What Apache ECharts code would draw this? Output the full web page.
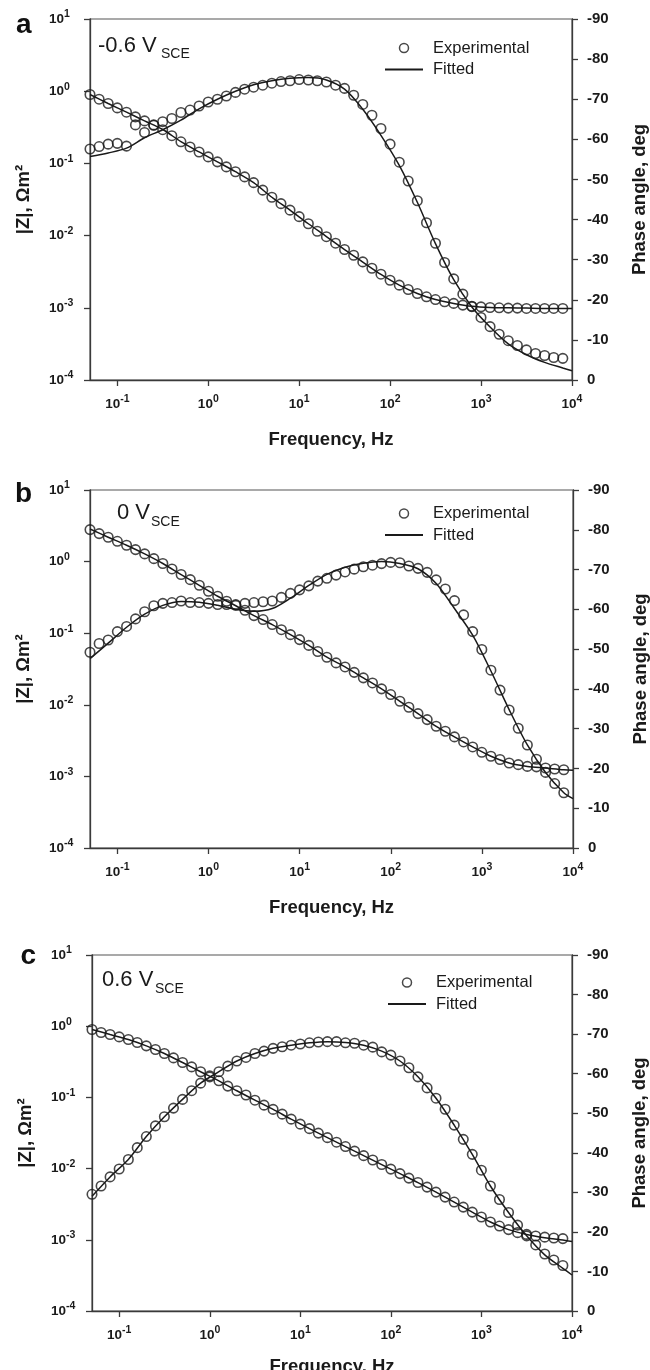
<!DOCTYPE html>
<html><head><meta charset="utf-8">
<script src="https://cdn.jsdelivr.net/npm/echarts@6/dist/echarts.min.js"></script>
<style>html,body{margin:0;padding:0;background:#fff}#c{width:650px;height:1370px}</style>
</head><body><div id="c"></div>
<script>
// ---------- data ----------
const freq = [0.05, 0.063, 0.0792, 0.0998, 0.126, 0.158, 0.199, 0.251, 0.315, 0.397,
  0.5, 0.63, 0.792, 0.998, 1.26, 1.58, 1.99, 2.51, 3.15, 3.97,
  5, 6.3, 7.92, 9.98, 12.6, 15.8, 19.9, 25.1, 31.5, 39.7,
  50, 63, 79.2, 99.8, 126, 158, 199, 251, 315, 397,
  500, 630, 792, 998, 1256, 1581, 1991, 2506, 3155, 3972,
  5000, 6295, 7924];
const fitFreq = [0.05, 0.0792, 0.126, 0.199, 0.315, 0.5, 0.792, 1.26, 1.99, 3.15, 5, 7.92, 12.6, 19.9,
  31.5, 50, 79.2, 126, 199, 315, 500, 792, 1256, 1991, 3155, 5000, 7924, 10000];
const xTicks = [0.1, 1, 10, 100, 1000, 10000];
const zTicks = [1e-4, 1e-3, 1e-2, 1e-1, 1, 10];
const panelLetters = ['a', 'b', 'c'];
const potentials = ['-0.6 V', '0 V', '0.6 V'];
const potentialSub = 'SCE';

// panel a (-0.6 V SCE)
const aZ = [0.900, 0.775, 0.676, 0.587, 0.512, 0.441, 0.388, 0.338, 0.293, 0.242,
  0.199, 0.169, 0.144, 0.123, 0.105, 0.0895, 0.0767, 0.0650, 0.0541, 0.0426,
  0.0340, 0.0277, 0.0225, 0.0183, 0.0146, 0.0115, 0.00966, 0.00785, 0.00642, 0.00535,
  0.00432, 0.00353, 0.00292, 0.00241, 0.00206, 0.00179, 0.00158, 0.00142, 0.00130, 0.00121,
  0.00115, 0.00109, 0.00105, 0.00103, 0.00101, 0.00100, 0.00099, 0.00099, 0.00098, 0.00098,
  0.00098, 0.00098, 0.00098];
const aPhase = [-57.6, -58.2, -58.8, -59.0, -58.3, -63.6, -61.7, -63.6, -64.4, -65.2,
  -66.7, -67.3, -68.3, -69.3, -70.0, -70.8, -71.7, -72.5, -73.0, -73.5,
  -74.0, -74.4, -74.6, -74.9, -74.8, -74.6, -74.3, -73.5, -72.7, -71.0,
  -68.7, -66.0, -62.7, -58.8, -54.3, -49.6, -44.7, -39.2, -34.1, -29.3,
  -25.2, -21.4, -18.3, -15.6, -13.3, -11.4, -9.8, -8.6, -7.5, -6.6,
  -6.1, -5.6, -5.4];
const aZFit = [0.90, 0.676, 0.512, 0.388, 0.295, 0.2, 0.144, 0.105, 0.0767, 0.0541, 0.034, 0.0225, 0.0146, 0.0097,
  0.0064, 0.0043, 0.0029, 0.00206, 0.00158, 0.0013, 0.00115, 0.00105, 0.00101, 0.001, 0.00099, 0.00098, 0.00098, 0.00098];
const aPhaseFit = [-55.7, -56.6, -57.8, -60.4, -62.4, -64.8, -67.6, -70.0, -72.0, -73.6, -74.6, -75.2, -75.4, -74.8,
  -72.5, -67.5, -61.0, -53.5, -44.3, -34.0, -25.0, -18.2, -13.2, -9.0, -6.3, -4.4, -3.0, -2.3];

// panel b (0 V SCE)
const bZ = [2.80, 2.46, 2.19, 1.92, 1.69, 1.47, 1.28, 1.10, 0.94, 0.79,
  0.66, 0.56, 0.467, 0.385, 0.328, 0.279, 0.245, 0.209, 0.176, 0.155,
  0.132, 0.112, 0.0955, 0.0814, 0.0675, 0.0555, 0.0462, 0.0385, 0.0338, 0.0284,
  0.0238, 0.0202, 0.0167, 0.0139, 0.0112, 0.00923, 0.00754, 0.00621, 0.00501, 0.00427,
  0.00356, 0.00303, 0.00258, 0.00217, 0.00191, 0.00172, 0.00154, 0.00146, 0.00138, 0.00136,
  0.00131, 0.00127, 0.00124];
const bPhase = [-49.2, -51.4, -52.3, -54.4, -55.7, -57.6, -59.4, -60.9, -61.5, -61.7,
  -62.1, -61.7, -61.7, -61.5, -61.2, -61.2, -61.2, -61.5, -61.7, -61.9,
  -62.1, -63.0, -64.0, -64.9, -65.9, -67.1, -67.8, -68.6, -69.4, -70.1,
  -70.7, -71.1, -71.5, -71.8, -71.7, -70.9, -70.3, -69.3, -67.4, -65.1,
  -62.2, -58.6, -54.4, -49.9, -44.7, -39.7, -34.7, -30.1, -25.9, -22.3,
  -19.0, -16.2, -13.9];
const bZFit = [2.85, 2.19, 1.69, 1.28, 0.94, 0.66, 0.467, 0.328, 0.242, 0.176, 0.132, 0.0955, 0.0675, 0.0462,
  0.0338, 0.0238, 0.0167, 0.0112, 0.00754, 0.00501, 0.00356, 0.00258, 0.00191, 0.00154, 0.00138, 0.00131, 0.00124, 0.00122];
const bPhaseFit = [-47.6, -51.5, -55.5, -58.8, -61.0, -62.0, -61.8, -61.0, -60.0, -59.5, -60.2, -62.8, -66.0, -68.8,
  -70.6, -71.6, -72.0, -71.5, -70.2, -66.5, -60.2, -53.5, -44.5, -34.8, -25.9, -19.0, -13.9, -12.4];

// panel c (0.6 V SCE)
const cZ = [0.90, 0.816, 0.764, 0.708, 0.65, 0.59, 0.53, 0.471, 0.414, 0.359,
  0.309, 0.268, 0.229, 0.201, 0.171, 0.144, 0.124, 0.108, 0.0914, 0.0778,
  0.0678, 0.0582, 0.0495, 0.0421, 0.0364, 0.0315, 0.0272, 0.0235, 0.0204, 0.0176,
  0.0152, 0.0132, 0.0114, 0.00984, 0.00851, 0.00736, 0.00637, 0.0055, 0.00468, 0.00398,
  0.00339, 0.00288, 0.00245, 0.00209, 0.00178, 0.00156, 0.00139, 0.00126, 0.00119, 0.00113,
  0.00109, 0.00106, 0.00104];
const cPhase = [-29.5, -31.6, -33.9, -35.9, -38.3, -41.3, -44.1, -46.8, -49.1, -51.3,
  -53.5, -55.7, -57.6, -59.2, -60.5, -61.9, -63.2, -64.1, -65.1, -65.7,
  -66.4, -66.8, -67.2, -67.5, -67.8, -68.0, -68.1, -68.1, -67.8, -67.7,
  -67.2, -66.7, -65.5, -64.7, -63.2, -61.5, -59.2, -56.4, -53.8, -51.0,
  -47.0, -43.4, -39.6, -35.6, -31.6, -28.2, -24.9, -21.7, -19.0, -16.7,
  -14.4, -12.9, -11.5];
const cZFit = [0.90, 0.764, 0.65, 0.53, 0.414, 0.309, 0.229, 0.171, 0.124, 0.0914, 0.0678, 0.0495, 0.0364, 0.0272,
  0.0204, 0.0152, 0.0114, 0.00851, 0.00637, 0.00468, 0.00339, 0.00245, 0.00178, 0.00139, 0.00119, 0.00107, 0.00099, 0.00095];
const cPhaseFit = [-29.0, -33.9, -38.3, -44.1, -49.1, -53.5, -57.6, -60.5, -63.2, -65.1, -66.4, -67.2, -67.8, -68.1,
  -67.9, -67.2, -65.7, -63.2, -59.2, -53.8, -47.0, -39.6, -31.6, -24.9, -19.0, -14.2, -10.8, -9.1];

// ---------- layout / style ----------
const FONT = '"Liberation Sans", Arial, Helvetica, sans-serif';
const INK = '#1a1a1a';
const AXIS = '#3a3a3a';
const panels = [
  {Z: aZ, P: aPhase, ZF: aZFit, PF: aPhaseFit},
  {Z: bZ, P: bPhase, ZF: bZFit, PF: bPhaseFit},
  {Z: cZ, P: cPhase, ZF: cZFit, PF: cPhaseFit}
];
const grids = [
  {left: 90, top: 19, width: 482, height: 361},
  {left: 90, top: 490, width: 483, height: 358},
  {left: 92, top: 955, width: 480, height: 356}
];
const xNameGap = [50, 50, 46];
const letterPos = [[16, 25.5], [15, 494.5], [20.5, 956]];
// [main text x, main text middle y, subscript x, subscript middle y]
const potPos = [[98, 45.5, 161, 54.5], [117, 513, 151, 522], [102, 979.5, 155, 989]];
const legendPos = [[384, 39.5], [384, 505], [387, 974]];

function supLabel(v) {
  const e = Math.round(Math.log10(v));
  return '{m|10}{s|' + e + '}';
}
const supRich = {
  m: {fontFamily: FONT, fontSize: 13.5, fontWeight: 'bold', color: INK, lineHeight: 20},
  s: {fontFamily: FONT, fontSize: 10.5, fontWeight: 'bold', color: INK, lineHeight: 11, verticalAlign: 'top'}
};
const axisLine = {show: true, lineStyle: {color: AXIS, width: 1.3}};
const tick = {show: true, inside: false, length: 6, lineStyle: {color: AXIS, width: 1.3}};
const nameStyle = {fontFamily: FONT, fontSize: 18.5, fontWeight: 'bold', color: INK};

const option = {
  backgroundColor: '#fff',
  animation: false,
  grid: grids.map(g => Object.assign({show: true, containLabel: false, outerBoundsMode: 'none',
    borderColor: '#555', borderWidth: 1.2, backgroundColor: 'transparent'}, g)),
  xAxis: grids.map((g, k) => ({
    type: 'log', logBase: 10, gridIndex: k, min: 0.05, max: 10000,
    axisLine: axisLine,
    axisTick: Object.assign({customValues: xTicks}, tick),
    minorTick: {show: false},
    splitLine: {show: false},
    axisLabel: {customValues: xTicks, margin: 14, formatter: supLabel, rich: supRich},
    name: 'Frequency, Hz', nameLocation: 'middle', nameGap: xNameGap[k], nameTextStyle: nameStyle
  })),
  yAxis: [].concat(...grids.map((g, k) => [
    {
      type: 'log', logBase: 10, gridIndex: k, position: 'left', min: 1e-4, max: 10,
      axisLine: axisLine,
      axisTick: Object.assign({customValues: zTicks}, tick),
      minorTick: {show: false},
      splitLine: {show: false},
      axisLabel: {customValues: zTicks, margin: 41, align: 'left', formatter: supLabel, rich: supRich},
      name: '|Z|, Ωm²', nameLocation: 'middle', nameRotate: 90, nameGap: 57, nameTextStyle: nameStyle
    },
    {
      type: 'value', gridIndex: k, position: 'right', min: -90, max: 0, interval: 10, inverse: true,
      axisLine: axisLine,
      axisTick: tick,
      splitLine: {show: false},
      axisLabel: {margin: 15, align: 'left', fontFamily: FONT, fontSize: 15, fontWeight: 'bold', color: INK},
      name: 'Phase angle, deg', nameLocation: 'middle', nameRotate: 90, nameGap: 58, nameTextStyle: nameStyle
    }
  ])),
  legend: legendPos.map(p => ({
    left: p[0], top: p[1], padding: 0, orient: 'vertical', itemWidth: 38, itemHeight: 9, itemGap: 4.5,
    selectedMode: false,
    textStyle: {fontFamily: FONT, fontSize: 16.5, color: INK, padding: [0, 0, 0, 5]},
    data: [
      {name: 'Experimental', icon: 'circle', itemStyle: {color: 'rgba(0,0,0,0)', borderColor: INK, borderWidth: 1.5}},
      {name: 'Fitted', itemStyle: {color: 'rgba(0,0,0,0)', borderColor: 'rgba(0,0,0,0)', borderWidth: 0, opacity: 0}}
    ]
  })),
  series: [].concat(...panels.map((p, k) => {
    const scatterStyle = {color: 'rgba(0,0,0,0)', borderColor: INK, borderWidth: 1.6};
    return [
      {name: 'Fitted', type: 'line', xAxisIndex: k, yAxisIndex: 2 * k, symbol: 'none', smooth: 0.3,
        lineStyle: {color: INK, width: 1.5}, itemStyle: {color: INK},
        data: fitFreq.map((f, i) => [f, p.ZF[i]])},
      {name: 'Fitted', type: 'line', xAxisIndex: k, yAxisIndex: 2 * k + 1, symbol: 'none', smooth: 0.3,
        lineStyle: {color: INK, width: 1.5}, itemStyle: {color: INK},
        data: fitFreq.map((f, i) => [f, p.PF[i]])},
      {name: 'Experimental', type: 'scatter', xAxisIndex: k, yAxisIndex: 2 * k, symbol: 'circle', symbolSize: 9.5,
        itemStyle: scatterStyle, clip: false,
        data: freq.map((f, i) => [f, p.Z[i]])},
      {name: 'Experimental', type: 'scatter', xAxisIndex: k, yAxisIndex: 2 * k + 1, symbol: 'circle', symbolSize: 9.5,
        itemStyle: scatterStyle, clip: false,
        data: freq.map((f, i) => [f, p.P[i]])}
    ];
  })),
  graphic: [].concat(
    panelLetters.map((t, k) => ({
      type: 'text', x: letterPos[k][0], y: letterPos[k][1],
      style: {text: t, font: 'bold 28px ' + FONT, fill: '#111', textAlign: 'left', textVerticalAlign: 'middle'}
    })),
    potentials.map((t, k) => ({
      type: 'text', x: potPos[k][0], y: potPos[k][1],
      style: {text: t, font: '22px ' + FONT, fill: INK, textAlign: 'left', textVerticalAlign: 'middle'}
    })),
    potentials.map((t, k) => ({
      type: 'text', x: potPos[k][2], y: potPos[k][3],
      style: {text: potentialSub, font: '14px ' + FONT, fill: INK, textAlign: 'left', textVerticalAlign: 'middle'}
    }))
  )
};
const chart = echarts.init(document.getElementById('c'), null, {renderer: 'canvas'});
chart.setOption(option);
</script>
</body></html>
